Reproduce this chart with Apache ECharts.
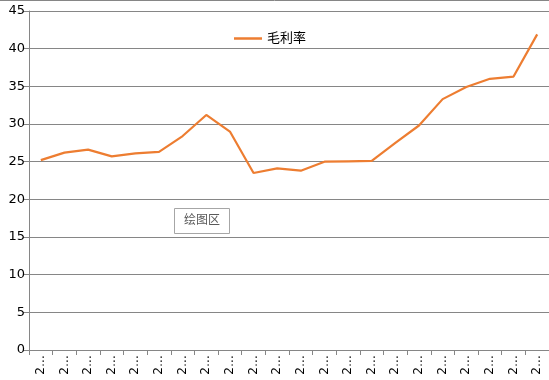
<!DOCTYPE html>
<html>
<head>
<meta charset="utf-8">
<script src="https://cdn.jsdelivr.net/npm/echarts@6/dist/echarts.min.js"></script>
<style>
  html, body { margin: 0; padding: 0; background: #fff; }
  #chart { width: 549px; height: 380px; }
</style>
</head>
<body>
<div id="chart"></div>
<script>
const categories = [
  '2000年', '2001年', '2002年', '2003年', '2004年', '2005年', '2006年', '2007年',
  '2008年', '2009年', '2010年', '2011年', '2012年', '2013年', '2014年', '2015年',
  '2016年', '2017年', '2018年', '2019年', '2020年', '2021年'
]
const grossMargin = [
  25.2, 26.2, 26.6, 25.7, 26.1, 26.3, 28.4, 31.2, 29.0, 23.5, 24.1,
  23.8, 25.0, 25.05, 25.1, 27.5, 29.8, 33.3, 34.9, 36.0, 36.3, 41.9
]
const seriesName = '毛利率'
const plotAreaLabel = '绘图区'

const c = {
  line: '#ED7D31',
  axis: '#868686',
  split: '#868686',
  text: '#000000',
  boxText: '#595959',
  boxBorder: '#A6A6A6',
}
const font = 'DejaVu Sans, "Noto Sans CJK SC", sans-serif'

const chart = echarts.init(document.getElementById('chart'))
chart.setOption({
  animation: false,
  backgroundColor: '#fff',
  grid: { left: 29, right: 0, top: 11, bottom: 30, containLabel: false },
  legend: {
    data: [seriesName],
    left: 229,
    top: 27,
    itemWidth: 28,
    itemHeight: 14,
    itemGap: 4,
    icon: 'path://M0,6 L28,6 L28,8.5 L0,8.5 Z',
    textStyle: { color: c.text, fontSize: 13, fontFamily: font },
  },
  xAxis: {
    type: 'category',
    data: categories,
    boundaryGap: true,
    axisLine: { lineStyle: { color: c.axis, width: 1 } },
    axisTick: { show: true, length: 5, lineStyle: { color: c.axis } },
    axisLabel: {
      rotate: 90,
      margin: 5,
      color: c.text,
      fontSize: 12,
      fontFamily: font,
      formatter: (v) => v.charAt(0) + '…',
    },
    splitLine: { show: false },
  },
  yAxis: {
    type: 'value',
    min: 0,
    max: 45,
    interval: 5,
    axisLine: { show: true, lineStyle: { color: c.axis, width: 1 } },
    axisTick: { show: true, length: 6, lineStyle: { color: c.axis } },
    axisLabel: { color: c.text, fontSize: 13, fontFamily: font, margin: 4 },
    splitLine: { lineStyle: { color: c.split, width: 1 } },
  },
  graphic: [
    {
      type: 'line',
      shape: { x1: 0, y1: 0.5, x2: 549, y2: 0.5 },
      style: { stroke: c.axis, lineWidth: 1 },
    },
    {
      type: 'group',
      left: 174,
      top: 208,
      children: [
        {
          type: 'rect',
          shape: { x: 0.5, y: 0.5, width: 55, height: 25 },
          style: { fill: '#fff', stroke: c.boxBorder, lineWidth: 1 },
        },
        {
          type: 'text',
          x: 28,
          y: 13,
          style: {
            text: plotAreaLabel,
            fill: c.boxText,
            font: '12px ' + font,
            align: 'center',
            verticalAlign: 'middle',
          },
        },
      ],
    },
  ],
  series: [
    {
      name: seriesName,
      type: 'line',
      data: grossMargin,
      showSymbol: false,
      symbol: 'none',
      lineStyle: { color: c.line, width: 2.2 },
      itemStyle: { color: c.line },
    },
  ],
})
window.addEventListener('resize', () => chart.resize())
</script>
</body>
</html>
